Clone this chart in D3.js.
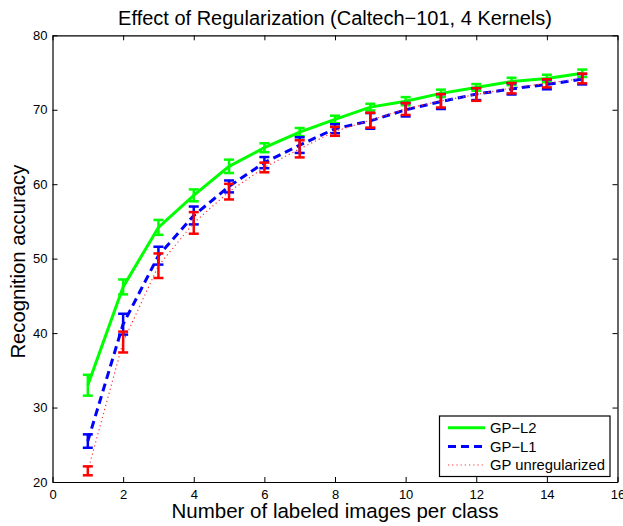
<!DOCTYPE html>
<html><head><meta charset="utf-8">
<script src="https://cdn.jsdelivr.net/npm/d3@7"></script>
<style>
body{margin:0;background:#fff;}
text{font-family:"Liberation Sans",Arial,Helvetica,sans-serif;}
</style></head>
<body><svg id="c" width="623" height="526"></svg>
<script>
const xs = [1,2,3,4,5,6,7,8,9,10,11,12,13,14,15];
const l2Mean = [33.0,46.2,54.2,58.5,62.4,64.9,67.0,68.7,70.35,71.15,72.2,73.0,73.8,74.2,74.9];
const l2Err  = [1.4,1.0,1.0,0.8,0.9,0.6,0.55,0.5,0.45,0.55,0.5,0.45,0.5,0.5,0.5];
const l1Mean = [25.5,41.2,50.4,55.8,59.7,62.9,65.25,67.45,68.5,70.0,71.1,72.1,72.8,73.4,74.1];
const l1Err  = [0.9,1.4,1.2,1.2,0.8,0.75,1.05,0.6,1.05,0.9,1.0,0.8,0.75,0.65,0.7];
const unMean = [21.5,38.8,49.05,54.8,59.0,62.25,64.75,67.1,68.6,70.1,71.2,72.05,72.9,73.55,74.2];
const unErr  = [0.6,1.4,1.65,1.45,1.05,0.65,1.15,0.6,1.0,0.8,0.9,0.85,0.7,0.55,0.65];
const xTicks = [0,2,4,6,8,10,12,14,16];
const yTicks = [20,30,40,50,60,70,80];
const seriesNames = ["GP\u2212L2","GP\u2212L1","GP unregularized"];
const titleText = "Effect of Regularization (Caltech\u2212101, 4 Kernels)";
const xLabel = "Number of labeled images per class";
const yLabel = "Recognition accuracy";

const L=52.5, R=617.5, T=35.3, B=482;
const svg = d3.select("#c");
const x = d3.scaleLinear().domain([0,16]).range([L,R]);
const y = d3.scaleLinear().domain([20,80]).range([B,T]);

const series = [
  {name:seriesNames[0], mean:l2Mean, err:l2Err, color:"#00ff00", width:3, dash:null},
  {name:seriesNames[1], mean:l1Mean, err:l1Err, color:"#0000ff", width:3, dash:"8,5"},
  {name:seriesNames[2], mean:unMean, err:unErr, color:"#ff3333", width:1.2, dash:"1.2,3"}
];

const tickLen = 5;
const axB = d3.axisBottom(x).tickValues(xTicks).tickSizeInner(-tickLen).tickSizeOuter(0).tickPadding(8);
const axT = d3.axisTop(x).tickValues(xTicks).tickSizeInner(-tickLen).tickSizeOuter(0).tickFormat("");
const axL = d3.axisLeft(y).tickValues(yTicks).tickSizeInner(-tickLen).tickSizeOuter(0).tickPadding(5);
const axR = d3.axisRight(y).tickValues(yTicks).tickSizeInner(-tickLen).tickSizeOuter(0).tickFormat("");
function style(g){g.select(".domain").attr("stroke","#000").attr("stroke-width",1.2);
  g.selectAll(".tick line").attr("stroke","#000").attr("stroke-width",1);
  g.selectAll(".tick text").attr("fill","#000").attr("font-size",13).attr("font-family","Liberation Sans, Arial, sans-serif");}
svg.append("g").attr("transform",`translate(0,${B})`).call(axB).call(style);
svg.append("g").attr("transform",`translate(0,${T})`).call(axT).call(style);
svg.append("g").attr("transform",`translate(${L},0)`).call(axL).call(style);
svg.append("g").attr("transform",`translate(${R},0)`).call(axR).call(style);

const line = d3.line().x(d=>x(d.x)).y(d=>y(d.m));
const cap = 5;
series.forEach(s=>{
  const pts = xs.map((xv,i)=>({x:xv,m:s.mean[i],e:s.err[i]}));
  const g = svg.append("g");
  const p = g.append("path").datum(pts).attr("d",line).attr("fill","none")
    .attr("stroke",s.color).attr("stroke-width",s.width);
  if(s.dash) p.attr("stroke-dasharray",s.dash);
  const ebColor = s.name===seriesNames[2] ? "#ff0000" : s.color;
  const eb = g.selectAll(".eb").data(pts).enter().append("g").attr("stroke",ebColor).attr("stroke-width",2.5);
  eb.append("line").attr("x1",d=>x(d.x)).attr("x2",d=>x(d.x)).attr("y1",d=>y(d.m-d.e)).attr("y2",d=>y(d.m+d.e));
  eb.append("line").attr("x1",d=>x(d.x)-cap).attr("x2",d=>x(d.x)+cap).attr("y1",d=>y(d.m-d.e)).attr("y2",d=>y(d.m-d.e));
  eb.append("line").attr("x1",d=>x(d.x)-cap).attr("x2",d=>x(d.x)+cap).attr("y1",d=>y(d.m+d.e)).attr("y2",d=>y(d.m+d.e));
});

const lg = svg.append("g");
lg.append("rect").attr("x",439.5).attr("y",416).attr("width",170.5).attr("height",60.5)
  .attr("fill","#fff").attr("stroke","#000").attr("stroke-width",1.2);
const ly = [427.7,446.5,465];
series.forEach((s,i)=>{
  const l = lg.append("line").attr("x1",448).attr("x2",485).attr("y1",ly[i]).attr("y2",ly[i])
    .attr("stroke",s.color).attr("stroke-width",s.width);
  if(s.dash) l.attr("stroke-dasharray",s.dash);
  lg.append("text").attr("x",490).attr("y",ly[i]).attr("dy","0.35em").attr("font-size",14.8).text(s.name);
});

svg.append("text").attr("x",(L+R)/2).attr("y",25).attr("text-anchor","middle").attr("font-size",20).text(titleText);
svg.append("text").attr("x",(L+R)/2).attr("y",518).attr("text-anchor","middle").attr("font-size",20.5).text(xLabel);
svg.append("text").attr("transform",`translate(25,${(T+B)/2 + 3}) rotate(-90)`).attr("text-anchor","middle").attr("font-size",20.3).text(yLabel);
</script></body></html>
